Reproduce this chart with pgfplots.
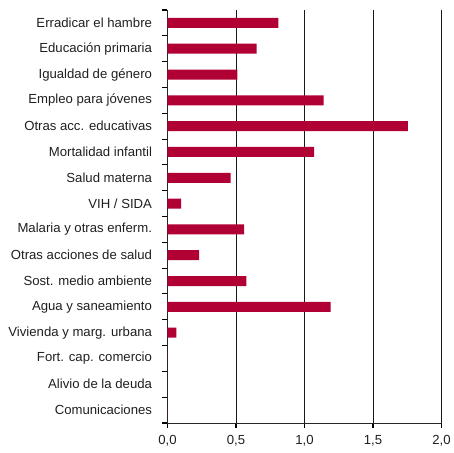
\documentclass[border=0pt]{standalone}
\usepackage{pgfplots}
\pgfplotsset{compat=1.18}
\usepackage{fontspec}
\setmainfont{Liberation Sans}
\usetikzlibrary{calc}
\definecolor{barred}{RGB}{176,0,52}
\begin{document}
\begin{tikzpicture}
\begin{axis}[
  scale only axis,
  width=274bp, height=413bp,
  xmin=0, xmax=2, ymin=-0.5, ymax=15.5,
  y dir=reverse,
  axis x line=bottom, axis y line=left,
  axis line style={-, line width=0.9pt, black!85},
  xtick={0,0.5,1,1.5,2},
  xticklabels={{0,0},{0,5},{1,0},{1,5},{2,0}},
  minor xtick={0,0.5,...,2},
  xmajorgrids,
  grid style={line width=0.8pt, black!90},
  ytick={0,...,15},
  yticklabels={Erradicar el hambre,Educación primaria,Igualdad de género,Empleo para jóvenes,Otras acc. educativas,Mortalidad infantil,Salud materna,VIH / SIDA,Malaria y otras enferm.,Otras acciones de salud,Sost. medio ambiente,Agua y saneamiento,Vivienda y marg. urbana,Fort. cap. comercio,Alivio de la deuda,Comunicaciones},
  minor ytick={-0.5,0.5,...,15.5},
  tick style={draw=black, line width=0.8pt},
  minor tick style={draw=black, line width=1.1pt},
  major tick length=0pt,
  minor tick length=5bp,
  tick align=outside,
  ticklabel style={font=\fontsize{13.2}{15}\selectfont, text=black!88},
  yticklabel style={xshift=-12bp},
  xticklabel style={yshift=-9bp},
]
\addplot[xbar, bar width=10bp, fill=barred, draw=none] coordinates {
(0.81,0) (0.65,1) (0.51,2) (1.14,3) (1.755,4) (1.07,5) (0.46,6) (0.10,7)
(0.56,8) (0.23,9) (0.575,10) (1.19,11) (0.065,12) (0,13) (0,14) (0,15)
};
\coordinate (sw) at (rel axis cs:0,0);
\coordinate (ne) at (rel axis cs:1,1);
\end{axis}
\pgfresetboundingbox
\path[use as bounding box] ($(sw)+(-167.5bp,-30bp)$) rectangle ($(ne)+(12.5bp,10bp)$);
\end{tikzpicture}
\end{document}
